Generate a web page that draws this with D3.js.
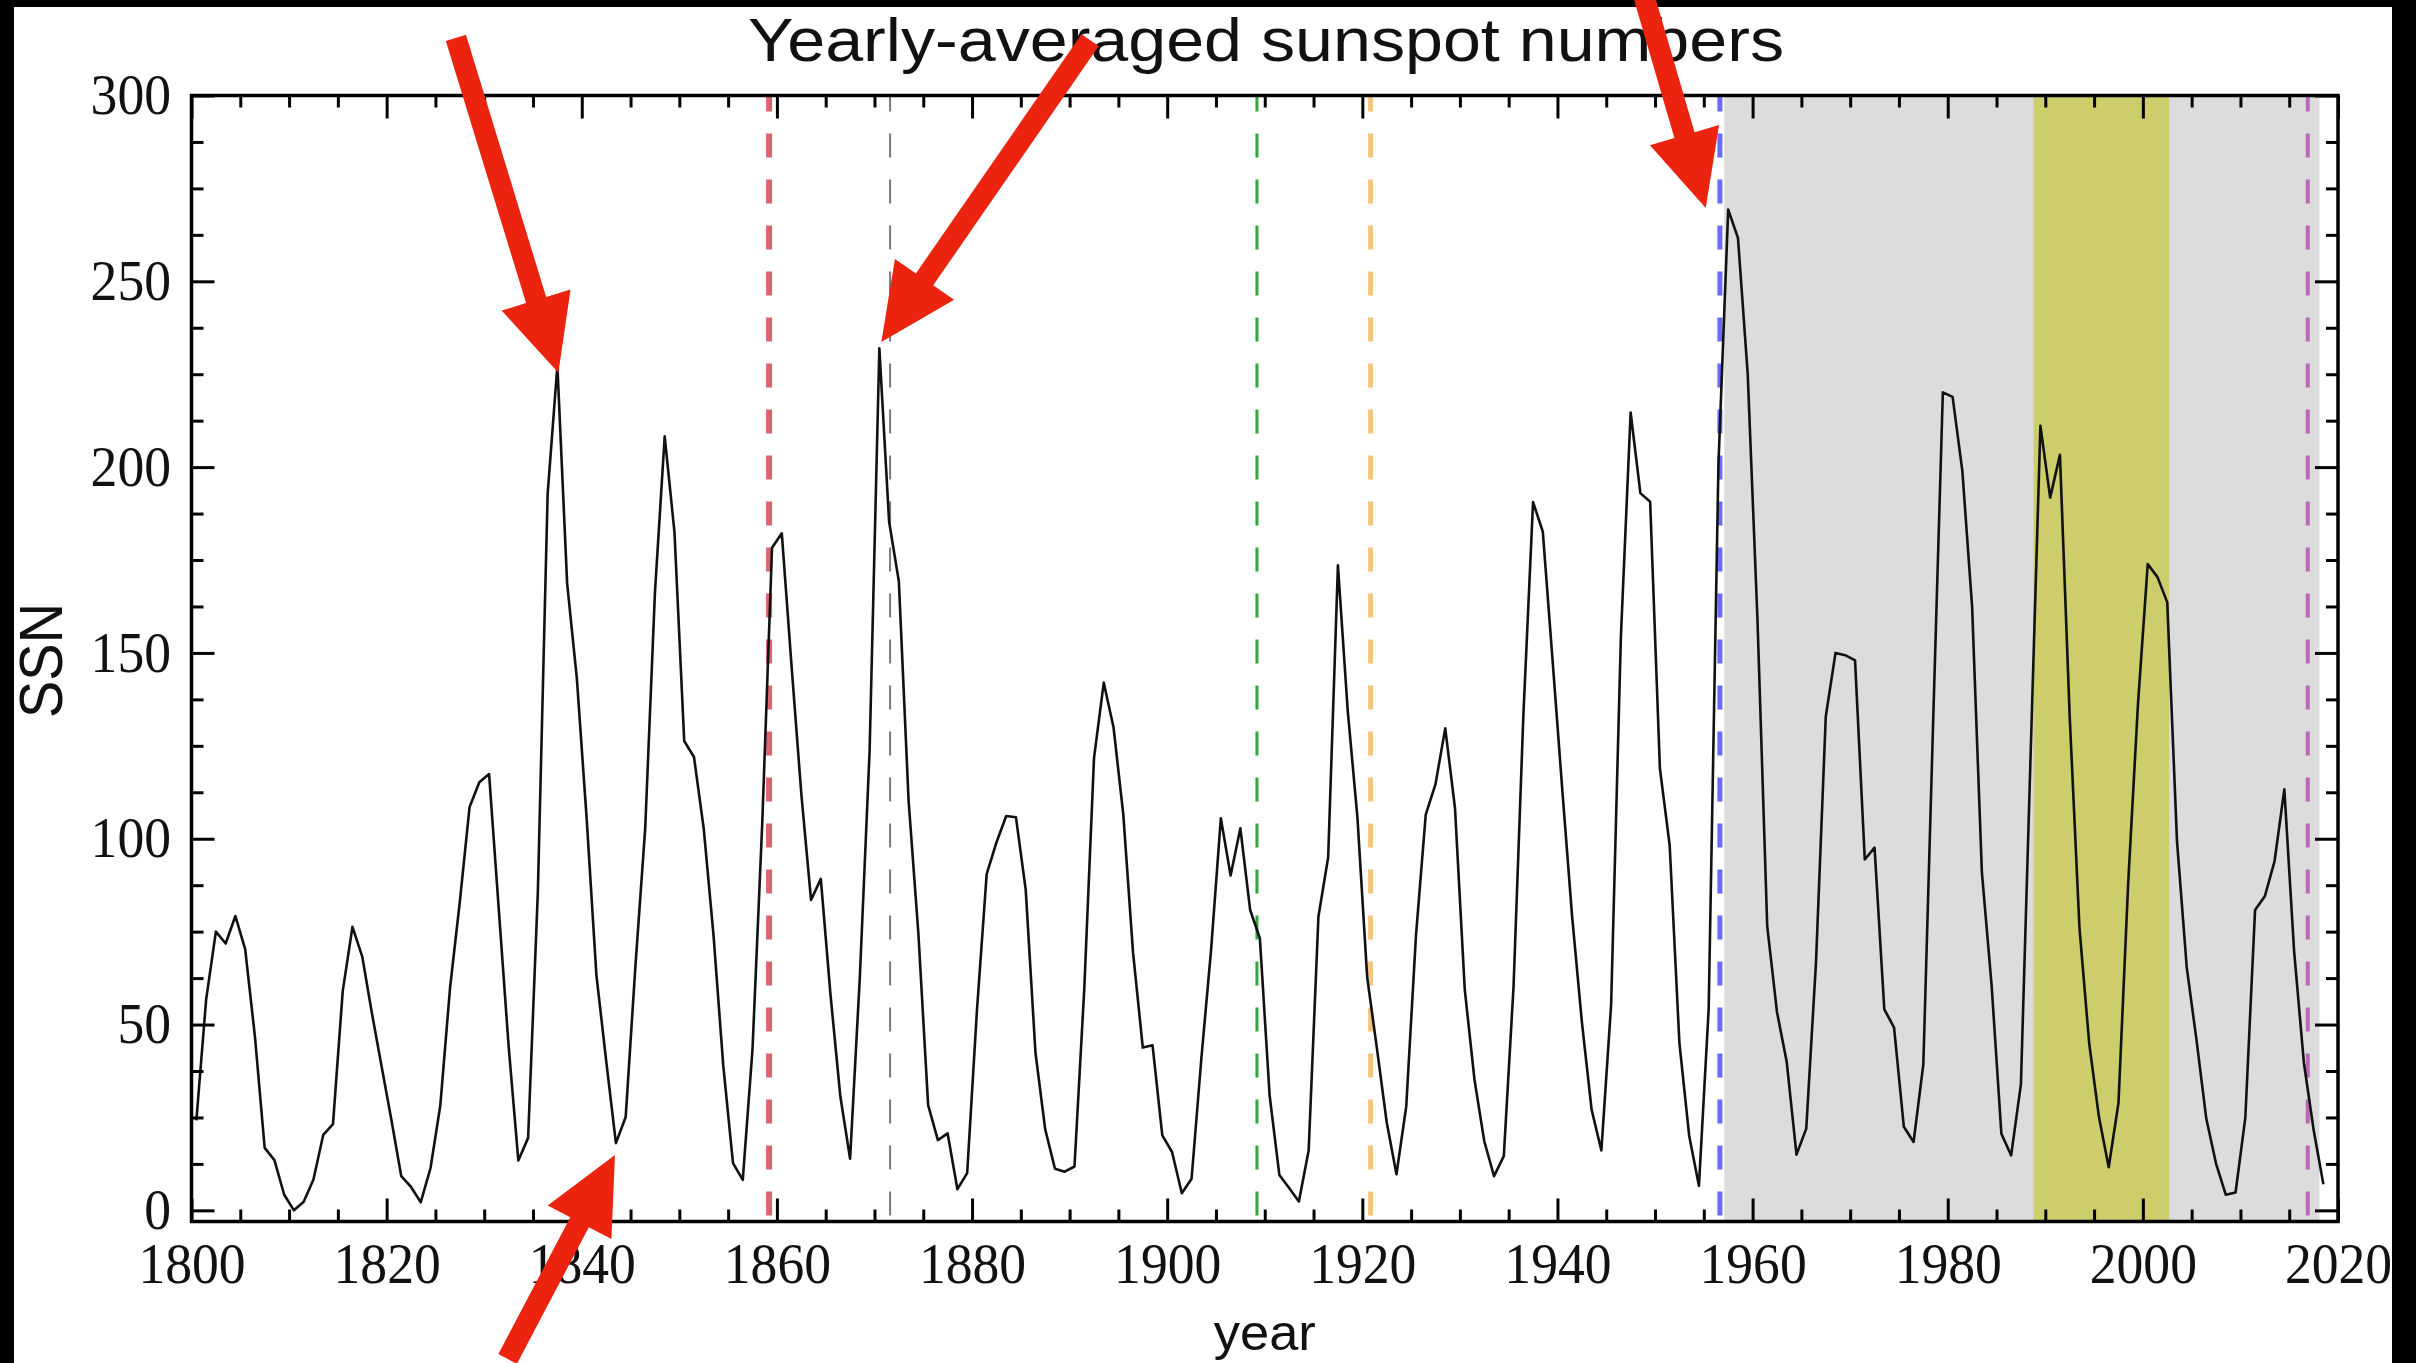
<!DOCTYPE html>
<html>
<head>
<meta charset="utf-8">
<script src="https://cdn.jsdelivr.net/npm/d3@7"></script>
<style>
  html, body { margin: 0; padding: 0; background: #000; }
  svg { display: block; }
</style>
</head>
<body>
<svg id="chart" width="2416" height="1363"></svg>
<script>
// ---------------- data ----------------
const years = d3.range(1800, 2019);           // yearly bins (plotted at mid-year)
const ssn = [
  24.2, 56.7, 75.0, 71.8, 79.2, 70.3, 46.8, 16.8, 13.5, 4.2,
  0.0, 2.3, 8.3, 20.3, 23.2, 59.0, 76.3, 68.3, 52.9, 38.5,
  24.2, 9.2, 6.3, 2.2, 11.4, 28.2, 59.9, 83.0, 108.5, 115.2,
  117.4, 80.8, 44.3, 13.4, 19.5, 85.8, 192.7, 227.3, 168.7, 143.0,
  105.5, 63.3, 40.3, 18.1, 25.1, 65.8, 102.7, 166.3, 208.3, 182.5,
  126.3, 122.0, 102.7, 74.1, 39.0, 12.7, 8.2, 43.4, 104.4, 178.3,
  182.2, 146.6, 112.1, 83.5, 89.2, 57.8, 30.7, 13.9, 62.8, 123.6,
  232.0, 185.3, 169.2, 110.1, 74.5, 28.3, 18.9, 20.7, 5.7, 10.0,
  53.7, 90.5, 99.0, 106.1, 105.8, 86.3, 42.4, 21.8, 11.2, 10.4,
  11.8, 59.5, 121.7, 142.0, 130.0, 106.6, 69.4, 43.8, 44.4, 20.2,
  15.7, 4.6, 8.5, 40.8, 70.1, 105.5, 90.1, 102.8, 80.9, 73.2,
  30.9, 9.5, 6.0, 2.4, 16.1, 79.0, 95.0, 173.6, 134.6, 105.7,
  62.7, 43.5, 23.7, 9.7, 27.9, 74.0, 106.5, 114.7, 129.7, 108.2,
  59.4, 35.1, 18.6, 9.2, 14.6, 60.2, 132.8, 190.6, 182.6, 148.0,
  113.0, 79.2, 50.8, 27.1, 16.1, 55.3, 154.3, 214.7, 193.0, 190.7,
  118.9, 98.3, 45.0, 20.1, 6.6, 54.2, 200.7, 269.3, 261.7, 225.1,
  159.0, 76.4, 53.4, 39.9, 15.0, 22.0, 66.8, 132.9, 150.0, 149.4,
  148.0, 94.4, 97.6, 54.1, 49.2, 22.5, 18.4, 39.3, 131.0, 220.1,
  218.9, 198.9, 162.4, 91.0, 60.5, 20.6, 14.8, 33.9, 123.0, 211.1,
  191.8, 203.3, 133.0, 76.1, 44.9, 25.1, 11.6, 28.9, 88.3, 136.3,
  173.9, 170.4, 163.6, 99.3, 65.3, 45.8, 24.7, 12.6, 4.2, 4.8,
  24.9, 80.8, 84.5, 94.0, 113.3, 69.8, 39.8, 21.7, 7.0
];

const xTickMajor = [1800, 1820, 1840, 1860, 1880, 1900, 1920, 1940, 1960, 1980, 2000, 2020];
const yTickMajor = [0, 50, 100, 150, 200, 250, 300];

// shaded periods [start, end]
const greySpan  = [1957.1, 2018.1];
const oliveSpan = [1988.8, 2002.7];

// vertical dashed event lines
const eventYears  = [1859.2, 1871.6, 1909.2, 1920.85, 1956.65, 2016.9];
const eventColors = ["#dc6470", "#7a7a7a", "#2fa83c", "#f4c47e", "#6a6aff", "#b868b8"];
const eventWidths = [6, 2, 3, 5, 5, 4];

// red annotation arrows: tail and tip, in (year, SSN)
const arrowTailYear = [1827.1, 1892.1, 1948.5, 1832.4];
const arrowTailSSN  = [315.5, 314.9, 330.0, -40.0];
const arrowTipYear  = [1837.6, 1870.7, 1955.2, 1843.4];
const arrowTipSSN   = [225.4, 233.7, 269.7, 14.9];

// ---------------- layout ----------------
const svg = d3.select("#chart");
const W = 2416, H = 1363;
const plot = { left: 191.5, right: 2338, top: 95.5, bottom: 1221.5 };

const x = d3.scaleLinear().domain([1800, 2020]).range([plot.left, plot.right]);
const y = d3.scaleLinear().domain([-3, 300]).range([plot.bottom, plot.top]);

// page (white sheet inside black frame)
svg.append("rect").attr("x", 0).attr("y", 0).attr("width", W).attr("height", H).attr("fill", "#000");
svg.append("rect").attr("x", 14).attr("y", 7).attr("width", 2392 - 14).attr("height", H - 7).attr("fill", "#fff");

// shaded spans
svg.append("rect")
  .attr("x", x(greySpan[0])).attr("y", plot.top)
  .attr("width", x(greySpan[1]) - x(greySpan[0])).attr("height", plot.bottom - plot.top)
  .attr("fill", "#dcdcdc");
svg.append("rect")
  .attr("x", x(oliveSpan[0])).attr("y", plot.top)
  .attr("width", x(oliveSpan[1]) - x(oliveSpan[0])).attr("height", plot.bottom - plot.top)
  .attr("fill", "#cdcd6c");

// event lines
svg.append("g").selectAll("line").data(eventYears).join("line")
  .attr("x1", d => x(d)).attr("x2", d => x(d))
  .attr("y1", plot.top).attr("y2", plot.bottom)
  .attr("stroke", (d, i) => eventColors[i])
  .attr("stroke-width", (d, i) => eventWidths[i])
  .attr("stroke-dasharray", "24,22")
  .attr("stroke-dashoffset", 8);

// data line
const line = d3.line().x((d, i) => x(years[i] + 0.5)).y(d => y(d));
svg.append("path").datum(ssn)
  .attr("d", line)
  .attr("fill", "none").attr("stroke", "#111").attr("stroke-width", 2.6)
  .attr("stroke-linejoin", "round");

// ---------------- axes ----------------
const xMinor = d3.range(1800, 2021, 5).filter(v => !xTickMajor.includes(v));
const yMinor = d3.range(0, 301, 12.5).filter(v => !yTickMajor.includes(v));
const MAJ = 23, MIN = 12;

function styleAxis(g) {
  g.select(".domain").remove();
  g.selectAll(".tick line").attr("stroke", "#000").attr("stroke-width", 3);
}
const labelFont = "'Liberation Serif', 'DejaVu Serif', serif";
function styleLabels(g) {
  g.selectAll(".tick text")
    .attr("font-family", labelFont).attr("font-size", 57).attr("fill", "#111")
    .each(function () {
      const t = d3.select(this);
      const n = t.text().length;
      t.attr("textLength", n * 26.8).attr("lengthAdjust", "spacingAndGlyphs");
    });
}

// bottom
svg.append("g").attr("transform", `translate(0,${plot.bottom})`)
  .call(d3.axisBottom(x).tickValues(xTickMajor).tickFormat(d3.format("d"))
        .tickSizeInner(-MAJ).tickSizeOuter(0).tickPadding(21))
  .call(styleAxis).call(styleLabels);
svg.append("g").attr("transform", `translate(0,${plot.bottom})`)
  .call(d3.axisBottom(x).tickValues(xMinor).tickFormat("").tickSizeInner(-MIN).tickSizeOuter(0))
  .call(styleAxis);
// top
svg.append("g").attr("transform", `translate(0,${plot.top})`)
  .call(d3.axisTop(x).tickValues(xTickMajor).tickFormat("").tickSizeInner(-MAJ).tickSizeOuter(0))
  .call(styleAxis);
svg.append("g").attr("transform", `translate(0,${plot.top})`)
  .call(d3.axisTop(x).tickValues(xMinor).tickFormat("").tickSizeInner(-MIN).tickSizeOuter(0))
  .call(styleAxis);
// left
svg.append("g").attr("transform", `translate(${plot.left},0)`)
  .call(d3.axisLeft(y).tickValues(yTickMajor).tickFormat(d3.format("d"))
        .tickSizeInner(-MAJ).tickSizeOuter(0).tickPadding(20.5))
  .call(styleAxis).call(styleLabels);
svg.append("g").attr("transform", `translate(${plot.left},0)`)
  .call(d3.axisLeft(y).tickValues(yMinor).tickFormat("").tickSizeInner(-MIN).tickSizeOuter(0))
  .call(styleAxis);
// right
svg.append("g").attr("transform", `translate(${plot.right},0)`)
  .call(d3.axisRight(y).tickValues(yTickMajor).tickFormat("").tickSizeInner(-MAJ).tickSizeOuter(0))
  .call(styleAxis);
svg.append("g").attr("transform", `translate(${plot.right},0)`)
  .call(d3.axisRight(y).tickValues(yMinor).tickFormat("").tickSizeInner(-MIN).tickSizeOuter(0))
  .call(styleAxis);

// frame
svg.append("rect")
  .attr("x", plot.left).attr("y", plot.top)
  .attr("width", plot.right - plot.left).attr("height", plot.bottom - plot.top)
  .attr("fill", "none").attr("stroke", "#000").attr("stroke-width", 3.5);

// ---------------- texts ----------------
const sans = "'Liberation Sans', Arial, Helvetica, sans-serif";
const midX = (plot.left + plot.right) / 2;
svg.append("text")
  .attr("x", 748).attr("y", 61)
  .attr("font-family", sans).attr("font-size", 61).attr("fill", "#111")
  .attr("textLength", 1036).attr("lengthAdjust", "spacingAndGlyphs")
  .text("Yearly-averaged sunspot numbers");

svg.append("text")
  .attr("x", midX - 51).attr("y", 1350)
  .attr("font-family", sans).attr("font-size", 50).attr("fill", "#111")
  .attr("textLength", 102).attr("lengthAdjust", "spacingAndGlyphs")
  .text("year");

svg.append("text")
  .attr("transform", `translate(62,${(plot.top + plot.bottom) / 2 + 2}) scale(1.1,1) rotate(-90)`)
  .attr("text-anchor", "middle")
  .attr("font-family", sans).attr("font-size", 56).attr("fill", "#111")
  .text("SSN");

// ---------------- arrows ----------------
function arrowPath(t, p) {
  const dx = p[0] - t[0], dy = p[1] - t[1];
  const L = Math.hypot(dx, dy);
  const ux = dx / L, uy = dy / L, nx = -uy, ny = ux;
  const sw = 10.5, hw = 36, hl = 76;
  const bx = p[0] - ux * hl, by = p[1] - uy * hl;
  const pts = [
    [t[0] + nx * sw, t[1] + ny * sw],
    [bx + nx * sw, by + ny * sw],
    [bx + nx * hw, by + ny * hw],
    p,
    [bx - nx * hw, by - ny * hw],
    [bx - nx * sw, by - ny * sw],
    [t[0] - nx * sw, t[1] - ny * sw]
  ];
  return "M" + pts.map(q => q.join(",")).join("L") + "Z";
}
svg.append("g").selectAll("path").data(arrowTipYear).join("path")
  .attr("d", (d, i) => arrowPath(
      [x(arrowTailYear[i]), y(arrowTailSSN[i])],
      [x(arrowTipYear[i]), y(arrowTipSSN[i])]))
  .attr("fill", "#eb230f");
</script>
</body>
</html>
